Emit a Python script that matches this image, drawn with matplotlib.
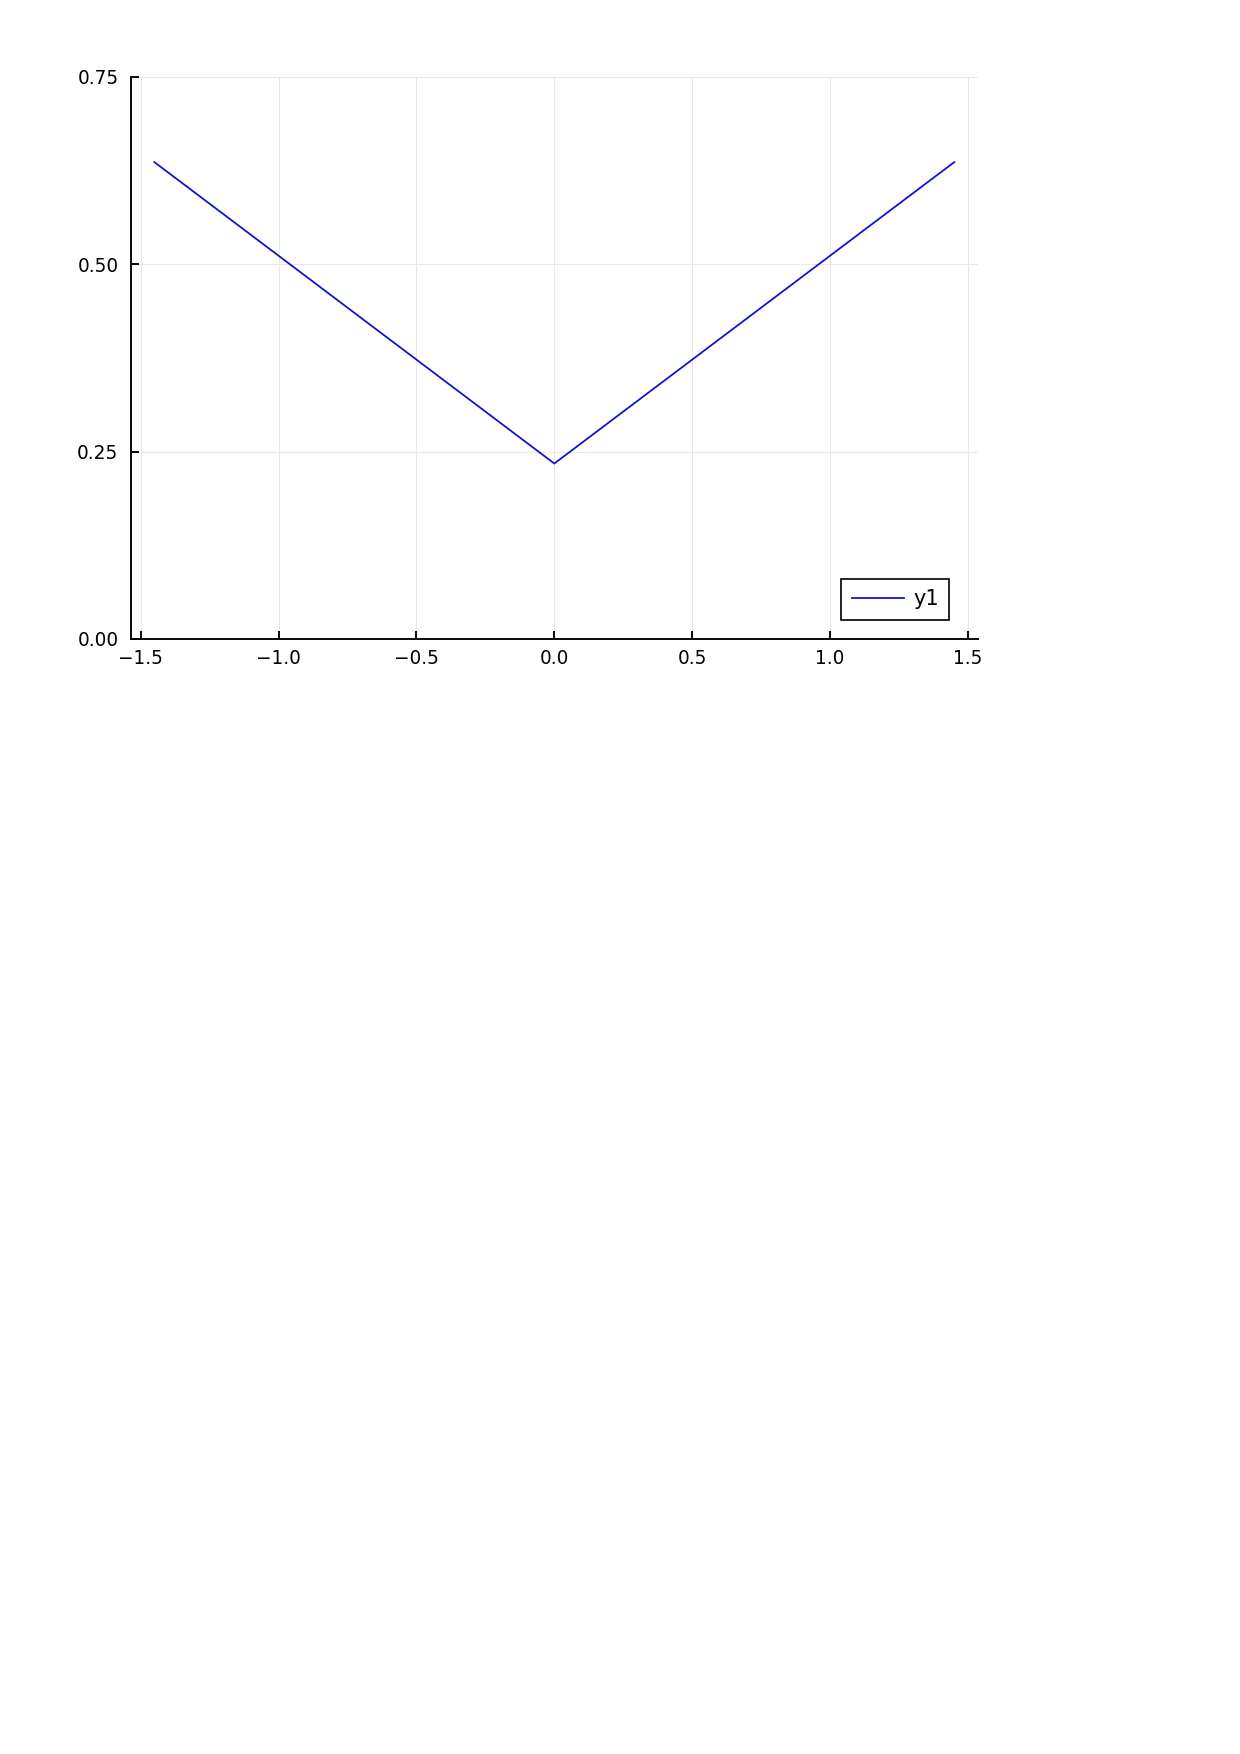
import numpy as np
import matplotlib
matplotlib.use('Agg')
import matplotlib.pyplot as plt

# V-shaped series
x_vals = [-1.45, 0.0, 1.45]
y_vals = [0.636, 0.234, 0.636]
series_name = 'y1'

x_ticks = [-1.5, -1.0, -0.5, 0.0, 0.5, 1.0, 1.5]
x_tick_labels = ['\u22121.5', '\u22121.0', '\u22120.5', '0.0', '0.5', '1.0', '1.5']
y_ticks = [0.0, 0.25, 0.5, 0.75]
y_tick_labels = ['0.00', '0.25', '0.50', '0.75']

plt.rcParams['font.family'] = 'DejaVu Sans'
fs = 8.9

fig = plt.figure(figsize=(1240 / 150, 1754 / 150), dpi=150)
ax = fig.add_axes([0.1056, 0.6357, 0.6831, 0.3206])

ax.plot(x_vals, y_vals, color='#1010cc', linewidth=0.85, label=series_name)

ax.set_xlim(-1.535, 1.536)
ax.set_ylim(0, 0.75)
ax.set_xticks(x_ticks)
ax.set_xticklabels(x_tick_labels)
ax.set_yticks(y_ticks)
ax.set_yticklabels(y_tick_labels)

ax.grid(True, color='#e8e8e8', linewidth=0.5)
ax.set_axisbelow(True)
for side in ['top', 'right']:
    ax.spines[side].set_visible(False)
for side in ['left', 'bottom']:
    ax.spines[side].set_linewidth(0.9)
    ax.spines[side].set_color('black')

ax.tick_params(direction='in', length=3.8, width=0.9, labelsize=fs, colors='black')
ax.tick_params(axis='x', pad=5)
ax.tick_params(axis='y', pad=6)

leg = ax.legend(loc='lower right', bbox_to_anchor=(0.966, 0.034), borderaxespad=0,
                fontsize=10, fancybox=False, framealpha=1, edgecolor='black',
                handlelength=2.5, handletextpad=0.45, borderpad=0.5)
leg.get_frame().set_linewidth(0.8)

fig.savefig('out.png', dpi=150)
